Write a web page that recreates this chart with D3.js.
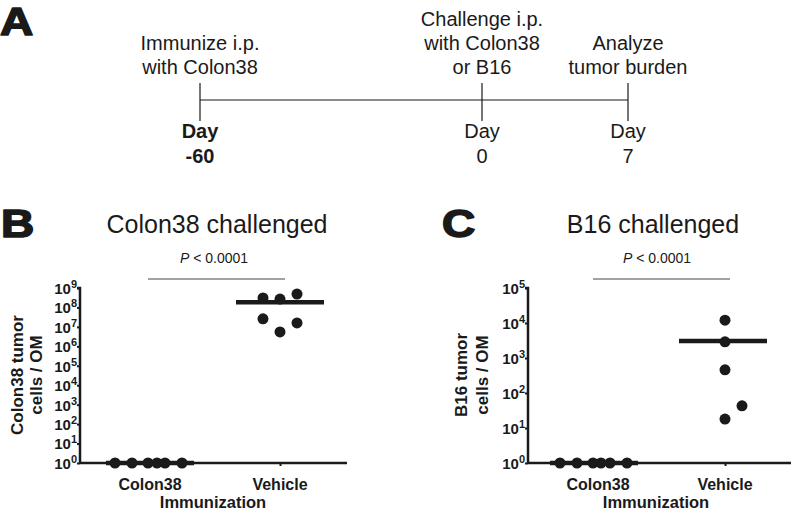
<!DOCTYPE html>
<html><head><meta charset="utf-8">
<script src="https://cdn.jsdelivr.net/npm/d3@7"></script>
<style>
body{margin:0;background:#fff}
svg{display:block}
text{font-family:"Liberation Sans",Arial,Helvetica,sans-serif;fill:#1a1a1a}
</style>
</head><body>
<svg id="chart" width="791" height="511"></svg>
<script>
// ---------- data ----------
const timelineDays = [-60, 0, 7];
const timelineEvents = [["Immunize i.p.", "with Colon38"], ["Challenge i.p.", "with Colon38", "or B16"], ["Analyze", "tumor burden"]];
const timelineDayLabels = [["Day", "-60"], ["Day", "0"], ["Day", "7"]];
const categories = ["Colon38", "Vehicle"];
const colon38Challenged_Colon38 = [1, 1, 1, 1, 1, 1];
const colon38Challenged_Vehicle = [3.1e8, 2.7e8, 4.9e8, 2.6e7, 1.6e7, 5.5e6];
const b16Challenged_Colon38 = [1, 1, 1, 1, 1, 1];
const b16Challenged_Vehicle = [1.2e4, 2.9e3, 4.6e2, 4.3e1, 1.8e1];
const colon38TickExponents = [0, 1, 2, 3, 4, 5, 6, 7, 8, 9];
const b16TickExponents = [0, 1, 2, 3, 4, 5];
const pValueText = "< 0.0001";

// ---------- drawing ----------
const svg = d3.select("#chart");
const ink = "#1a1a1a";

// Panel letters
function panelLetter(x, y, t) {
  svg.append("text").attr("transform", `translate(${x},${y}) scale(1.18,1)`)
    .attr("font-size", 39).attr("font-weight", "bold")
    .attr("stroke", ink).attr("stroke-width", 1.6).attr("stroke-linejoin", "round").text(t);
}
panelLetter(0, 35, "A");
panelLetter(1, 237, "B");
panelLetter(442, 237, "C");

// Panel A timeline
const tx = d3.scaleLinear().domain(timelineDays).range([200, 482, 628]);
const tl = svg.append("g");
tl.append("line").attr("x1", tx(-60)).attr("x2", tx(7)).attr("y1", 100).attr("y2", 100)
  .attr("stroke", ink).attr("stroke-width", 1.2);
timelineDays.forEach((d, i) => {
  tl.append("line").attr("x1", tx(d)).attr("x2", tx(d)).attr("y1", 83).attr("y2", 121)
    .attr("stroke", ink).attr("stroke-width", 1.2);
  const lines = timelineEvents[i];
  lines.forEach((s, j) => {
    tl.append("text").attr("x", tx(d)).attr("y", 74 - (lines.length - 1 - j) * 24)
      .attr("text-anchor", "middle").attr("font-size", 20).text(s);
  });
  timelineDayLabels[i].forEach((s, j) => {
    tl.append("text").attr("x", tx(d)).attr("y", 138 + j * 25)
      .attr("text-anchor", "middle").attr("font-size", 20)
      .attr("font-weight", i === 0 ? "bold" : "normal").text(s);
  });
});

// Scatter panel
function scatterPanel(opt) {
  const g = svg.append("g");
  const y = d3.scaleLog().domain([1, Math.pow(10, d3.max(opt.exps))]).range([463, 288]);
  const x = d3.scalePoint().domain(categories).range(opt.catRange);

  // title
  g.append("text").attr("x", opt.titleX).attr("y", 233).attr("text-anchor", "middle")
    .attr("font-size", 25).text(opt.title);
  // p value
  const pt = g.append("text").attr("x", opt.pX).attr("y", 263).attr("text-anchor", "middle").attr("font-size", 14);
  pt.append("tspan").attr("font-style", "italic").text("P");
  pt.append("tspan").text(" " + pValueText);
  g.append("line").attr("x1", opt.pLine[0]).attr("x2", opt.pLine[1]).attr("y1", 279).attr("y2", 279)
    .attr("stroke", "#444").attr("stroke-width", 1);

  // y axis
  const ya = d3.axisLeft(y).tickValues(opt.exps.map(e => Math.pow(10, e))).tickSize(3).tickFormat("");
  const yg = g.append("g").attr("transform", `translate(${opt.axisX},0)`).call(ya);
  yg.select(".domain").attr("stroke", ink).attr("stroke-width", 2.5).attr("d", `M-3,${y.range()[1]}H0V${y.range()[0]}`);
  yg.selectAll(".tick line").attr("stroke", ink).attr("stroke-width", 2);
  yg.selectAll(".tick").each(function(d) {
    const e = Math.round(Math.log10(d));
    const t = d3.select(this).append("text").attr("x", -3).attr("y", 0).attr("dy", "0.36em")
      .attr("text-anchor", "end").attr("font-size", 15).attr("font-weight", "bold").attr("fill", ink);
    t.append("tspan").text("10");
    t.append("tspan").attr("font-size", 11).attr("dy", "-0.55em").text(e);
  });

  // x axis
  const xa = d3.axisBottom(x).tickSize(3).tickFormat("");
  const xg = g.append("g").attr("transform", "translate(0,463)").call(xa);
  xg.select(".domain").attr("stroke", ink).attr("stroke-width", 2.5).attr("d", `M${opt.axisX},0H${opt.axisEnd}`);
  xg.selectAll(".tick line").attr("stroke", ink).attr("stroke-width", 2);
  categories.forEach(c => {
    g.append("text").attr("x", x(c)).attr("y", 490).attr("text-anchor", "middle")
      .attr("font-size", 16).attr("font-weight", "bold").text(c);
  });
  g.append("text").attr("x", opt.xTitleX).attr("y", 508).attr("text-anchor", "middle")
    .attr("font-size", 16.5).attr("font-weight", "bold").text("Immunization");

  // y title
  opt.yTitle.forEach((s, j) => {
    g.append("text").attr("transform", `translate(${opt.yTitleX[j]},375) rotate(-90)`)
      .attr("text-anchor", "middle").attr("font-size", 17).attr("font-weight", "bold").text(s);
  });

  // mean lines + dots
  opt.groups.forEach(gr => {
    const m = d3.mean(gr.values);
    const cx = x(gr.cat) + gr.lineShift;
    g.append("line").attr("x1", cx - 44).attr("x2", cx + 44).attr("y1", y(m)).attr("y2", y(m))
      .attr("stroke", ink).attr("stroke-width", 4.5);
    g.selectAll(null).data(gr.values).enter().append("circle")
      .attr("cx", (d, i) => x(gr.cat) + gr.jitter[i]).attr("cy", d => y(d))
      .attr("r", 5.5).attr("fill", ink);
  });
}

scatterPanel({
  title: "Colon38 challenged", titleX: 217, pX: 214, pLine: [148, 285],
  exps: colon38TickExponents, axisX: 80, axisEnd: 347, catRange: [150, 280],
  xTitleX: 213, yTitle: ["Colon38 tumor", "cells / OM"], yTitleX: [23, 42],
  groups: [
    {cat: "Colon38", values: colon38Challenged_Colon38, jitter: [-35, -18, -2, 7, 15, 32], lineShift: 0},
    {cat: "Vehicle", values: colon38Challenged_Vehicle, jitter: [-17, 0, 17, -17, 17, 0], lineShift: 0}
  ]
});
scatterPanel({
  title: "B16 challenged", titleX: 653, pX: 657, pLine: [593, 730],
  exps: b16TickExponents, axisX: 528, axisEnd: 791, catRange: [598, 725],
  xTitleX: 656, yTitle: ["B16 tumor", "cells / OM"], yTitleX: [467, 488],
  groups: [
    {cat: "Colon38", values: b16Challenged_Colon38, jitter: [-38, -21, -5, 3, 12, 29], lineShift: -4},
    {cat: "Vehicle", values: b16Challenged_Vehicle, jitter: [0, 0, 0, 17, 0], lineShift: -2}
  ]
});
</script>
</body></html>
